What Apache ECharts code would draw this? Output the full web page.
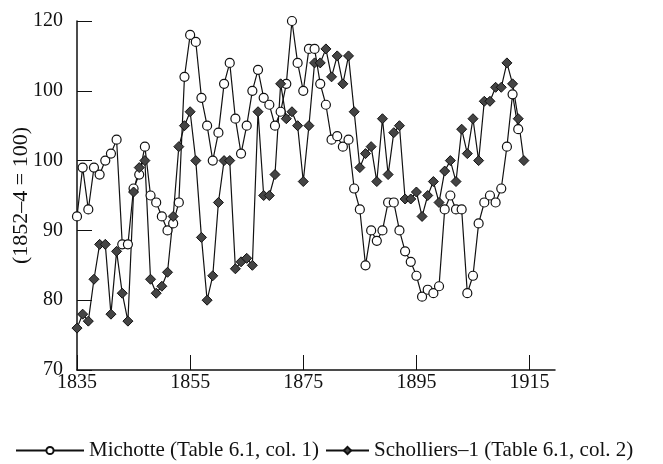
<!DOCTYPE html>
<html>
<head>
<meta charset="utf-8">
<script src="https://cdn.jsdelivr.net/npm/echarts@6/dist/echarts.min.js"></script>
<style>
  html, body { margin: 0; padding: 0; background: #fff; }
  #chart { width: 663px; height: 464px; }
</style>
</head>
<body>
<div id="chart"></div>
<script>
// years for each series
const michotteYears = [
  1835, 1836, 1837, 1838, 1839, 1840, 1841, 1842, 1843, 1844,
  1845, 1846, 1847, 1848, 1849, 1850, 1851, 1852, 1853, 1854,
  1855, 1856, 1857, 1858, 1859, 1860, 1861, 1862, 1863, 1864,
  1865, 1866, 1867, 1868, 1869, 1870, 1871, 1872, 1873, 1874,
  1875, 1876, 1877, 1878, 1879, 1880, 1881, 1882, 1883, 1884,
  1885, 1886, 1887, 1888, 1889, 1890, 1891, 1892, 1893, 1894,
  1895, 1896, 1897, 1898, 1899, 1900, 1901, 1902, 1903, 1904,
  1905, 1906, 1907, 1908, 1909, 1910, 1911, 1912, 1913
];
const michotteValues = [
  92, 99, 93, 99, 98, 100, 101, 103, 88, 88,
  96, 98, 102, 95, 94, 92, 90, 91, 94, 112,
  118, 117, 109, 105, 100, 104, 111, 114, 106, 101,
  105, 110, 113, 109, 108, 105, 107, 111, 120, 114,
  110, 116, 116, 111, 108, 103, 103.5, 102, 103, 96,
  93, 85, 90, 88.5, 90, 94, 94, 90, 87, 85.5,
  83.5, 80.5, 81.5, 81, 82, 93, 95, 93, 93, 81,
  83.5, 91, 94, 95, 94, 96, 102, 109.5, 104.5
];

const scholliersYears = [
  1835, 1836, 1837, 1838, 1839, 1840, 1841, 1842, 1843, 1844,
  1845, 1846, 1847, 1848, 1849, 1850, 1851, 1852, 1853, 1854,
  1855, 1856, 1857, 1858, 1859, 1860, 1861, 1862, 1863, 1864,
  1865, 1866, 1867, 1868, 1869, 1870, 1871, 1872, 1873, 1874,
  1875, 1876, 1877, 1878, 1879, 1880, 1881, 1882, 1883, 1884,
  1885, 1886, 1887, 1888, 1889, 1890, 1891, 1892, 1893, 1894,
  1895, 1896, 1897, 1898, 1899, 1900, 1901, 1902, 1903, 1904,
  1905, 1906, 1907, 1908, 1909, 1910, 1911, 1912, 1913, 1914
];
const scholliersValues = [
  76, 78, 77, 83, 88, 88, 78, 87, 81, 77,
  95.5, 99, 100, 83, 81, 82, 84, 92, 102, 105,
  107, 100, 89, 80, 83.5, 94, 100, 100, 84.5, 85.5,
  86, 85, 107, 95, 95, 98, 111, 106, 107, 105,
  97, 105, 114, 114, 116, 112, 115, 111, 115, 107,
  99, 101, 102, 97, 106, 98, 104, 105, 94.5, 94.5,
  95.5, 92, 95, 97, 94, 98.5, 100, 97, 104.5, 101,
  106, 100, 108.5, 108.5, 110.5, 110.5, 114, 111, 106, 100
];

// tick labels as printed (the 110 tick is printed "100" in the source)
const xTicks = [1835, 1855, 1875, 1895, 1915];
const yTickLabels = ['70', '80', '90', '100', '100', '120'];

const font = '"Liberation Serif", "Times New Roman", serif';
const legendText = { color: '#111', fontFamily: font, fontSize: 21 };

const chart = echarts.init(document.getElementById('chart'));

const pairs = (xs, ys) => xs.map((x, i) => [x, ys[i]]);

chart.setOption({
  animation: false,
  backgroundColor: '#fff',
  grid: { left: 77, right: 108, top: 21, bottom: 94, outerBoundsMode: 'none' },
  xAxis: {
    type: 'value',
    min: 1835,
    max: 1919.5,
    axisLine: { lineStyle: { color: '#111', width: 1.5 } },
    axisTick: {
      inside: true, length: 15, customValues: xTicks,
      lineStyle: { color: '#111', width: 1 }
    },
    axisLabel: {
      customValues: xTicks, margin: 3,
      color: '#111', fontFamily: font, fontSize: 20,
      formatter: v => String(v)
    },
    splitLine: { show: false }
  },
  yAxis: {
    type: 'value',
    min: 70,
    max: 120,
    interval: 10,
    name: '(1852–4 = 100)',
    nameLocation: 'middle',
    nameGap: 45,
    nameMoveOverlap: false,
    nameTextStyle: { color: '#111', fontFamily: font, fontSize: 22 },
    axisLine: { show: true, lineStyle: { color: '#111', width: 1.5 } },
    axisTick: { show: true, inside: true, length: 15, lineStyle: { color: '#111', width: 1 } },
    axisLabel: {
      margin: 14, color: '#111', fontFamily: font, fontSize: 20,
      formatter: v => yTickLabels[Math.round((v - 70) / 10)]
    },
    splitLine: { show: false }
  },
  legend: [
    {
      left: 10, top: 435, itemWidth: 68, itemHeight: 9,
      textStyle: legendText,
      data: ['Michotte (Table 6.1, col. 1)']
    },
    {
      left: 320, top: 435, itemWidth: 43, itemHeight: 9,
      textStyle: legendText,
      data: ['Scholliers–1 (Table 6.1, col. 2)']
    }
  ],
  series: [
    {
      name: 'Michotte (Table 6.1, col. 1)',
      type: 'line',
      data: pairs(michotteYears, michotteValues),
      symbol: 'circle',
      symbolSize: 9,
      lineStyle: { color: '#111', width: 1.2 },
      itemStyle: { color: '#fff', borderColor: '#111', borderWidth: 1.2 }
    },
    {
      name: 'Scholliers–1 (Table 6.1, col. 2)',
      type: 'line',
      data: pairs(scholliersYears, scholliersValues),
      symbol: 'diamond',
      symbolSize: [10, 10],
      lineStyle: { color: '#111', width: 1.2 },
      itemStyle: { color: '#444', borderColor: '#111', borderWidth: 1 }
    }
  ]
});
</script>
</body>
</html>
